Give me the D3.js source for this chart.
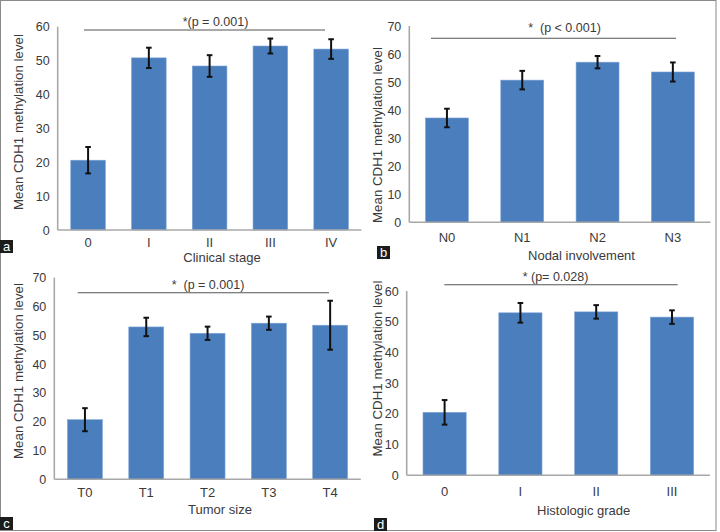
<!DOCTYPE html>
<html>
<head>
<meta charset="utf-8">
<script src="https://cdn.jsdelivr.net/npm/d3@7"></script>
<style>
  html, body { margin: 0; padding: 0; background: #fff; }
  svg { display: block; font-family: "Liberation Sans", Arial, sans-serif; }
  text { white-space: pre; }
</style>
</head>
<body>
<svg id="chart" width="720" height="532"></svg>
<script>
// ---- Data ----
const categoriesA = ["0", "I", "II", "III", "IV"];
const valuesA = [20.6, 50.8, 48.4, 54.3, 53.4];
const errorsA = [3.9, 3.0, 3.2, 2.2, 2.9];

const categoriesB = ["N0", "N1", "N2", "N3"];
const valuesB = [37.2, 50.7, 57.1, 53.6];
const errorsB = [3.3, 3.3, 2.2, 3.4];

const categoriesC = ["T0", "T1", "T2", "T3", "T4"];
const valuesC = [20.7, 52.9, 50.7, 54.2, 53.5];
const errorsC = [4.0, 3.2, 2.3, 2.3, 8.5];

const categoriesD = ["0", "I", "II", "III"];
const valuesD = [20.5, 52.9, 53.2, 51.5];
const errorsD = [4.0, 3.2, 2.2, 2.2];

const ticksA = [0, 10, 20, 30, 40, 50, 60];
const ticksB = [0, 10, 20, 30, 40, 50, 60, 70];
const ticksC = [0, 10, 20, 30, 40, 50, 60, 70];
const ticksD = [0, 10, 20, 30, 40, 50, 60];

const yTitle = "Mean CDH1 methylation level";

// ---- Drawing ----
const svg = d3.select("#chart");
const textColor = "#3a3a3a";
const barColor = "#4a7ebd";
const axisColor = "#a8a8a8";

svg.append("rect").attr("x", 0.5).attr("y", 0.5).attr("width", 715.5).attr("height", 530)
  .attr("fill", "#fff").attr("stroke", "#8a8a8a").attr("stroke-width", 1);

function panel(p) {
  const g = svg.append("g");
  const x = d3.scaleBand().domain(p.categories).range([p.x0, p.x1])
    .paddingInner(0.43).paddingOuter(0.215);
  const y = d3.scaleLinear().domain([0, d3.max(p.ticks)]).range([p.yBase, p.yTop]);

  const yAxis = d3.axisLeft(y).tickValues(p.ticks).tickSize(0).tickPadding(8);
  const ya = g.append("g").attr("transform", `translate(${p.x0},0)`).call(yAxis);
  ya.select(".domain").remove();
  ya.selectAll("text").attr("fill", textColor).style("font-size", "12.5px")
    .style("font-family", "Liberation Sans, Arial, sans-serif");

  const xAxis = d3.axisBottom(x).tickSize(0).tickPadding(p.xLabPad);
  const xa = g.append("g").attr("transform", `translate(0,${p.yBase})`).call(xAxis);
  xa.select(".domain").remove();
  xa.selectAll("text").attr("fill", textColor).style("font-size", "13px")
    .style("font-family", "Liberation Sans, Arial, sans-serif");

  g.selectAll("rect.bar").data(p.values).join("rect")
    .attr("class", "bar")
    .attr("x", (d, i) => x(p.categories[i]))
    .attr("width", x.bandwidth())
    .attr("y", d => y(d))
    .attr("height", d => y(0) - y(d))
    .attr("fill", barColor)
    .attr("stroke", "#7fa5d6").attr("stroke-width", 0.6);

  g.append("line").attr("x1", p.x0).attr("x2", p.x0).attr("y1", p.yTop).attr("y2", p.yBase)
    .attr("stroke", axisColor).attr("stroke-width", 1.6);
  g.append("line").attr("x1", p.x0).attr("x2", p.x1).attr("y1", p.yBase).attr("y2", p.yBase)
    .attr("stroke", axisColor).attr("stroke-width", 1.6);

  const eb = g.selectAll("g.err").data(p.values).join("g").attr("class", "err");
  eb.each(function (d, i) {
    const cx = x(p.categories[i]) + x.bandwidth() / 2;
    const e = p.errors[i];
    const s = d3.select(this);
    s.append("line").attr("x1", cx).attr("x2", cx).attr("y1", y(d + e)).attr("y2", y(d - e))
      .attr("stroke", "#111").attr("stroke-width", 2);
    [d + e, d - e].forEach(v => {
      s.append("line").attr("x1", cx - 2.8).attr("x2", cx + 2.8).attr("y1", y(v)).attr("y2", y(v))
        .attr("stroke", "#111").attr("stroke-width", 2);
    });
  });

  g.append("text")
    .attr("transform", `translate(${p.yTitleX},${p.yTitleY}) rotate(-90)`)
    .attr("text-anchor", "middle").attr("dy", "0.35em")
    .attr("fill", textColor).style("font-size", "13.3px").text(yTitle);

  g.append("text").attr("x", p.xTitleX).attr("y", p.xTitleY)
    .attr("text-anchor", "middle").attr("fill", textColor).style("font-size", "13px")
    .text(p.xTitle);

  g.append("line").attr("x1", p.brX1).attr("x2", p.brX2).attr("y1", p.brY).attr("y2", p.brY)
    .attr("stroke", "#555").attr("stroke-width", 1.1);
  g.append("text").attr("x", p.sigX).attr("y", p.sigY).attr("text-anchor", "middle")
    .attr("fill", textColor).style("font-size", "12.5px").text(p.sig);

  g.append("rect").attr("x", p.lx).attr("y", p.ly).attr("width", 13).attr("height", 13)
    .attr("fill", "#1c1c1c");
  g.append("text").attr("x", p.lx + 6.5).attr("y", p.ly + 10.5).attr("text-anchor", "middle")
    .attr("fill", "#fff").style("font-size", "13px").text(p.letter);
}

panel({
  categories: categoriesA, values: valuesA, errors: errorsA, ticks: ticksA,
  x0: 57.7, x1: 361.5, yTop: 26.7, yBase: 230, xLabPad: 8,
  yTitleX: 18, yTitleY: 122, xTitle: "Clinical stage", xTitleX: 222, xTitleY: 261.5,
  brX1: 84, brX2: 325, brY: 30, sig: "*(p = 0.001)", sigX: 215.5, sigY: 25.5,
  letter: "a", lx: 0, ly: 240
});

panel({
  categories: categoriesB, values: valuesB, errors: errorsB, ticks: ticksB,
  x0: 409.3, x1: 710.5, yTop: 26, yBase: 222.3, xLabPad: 10,
  yTitleX: 377, yTitleY: 135, xTitle: "Nodal involvement", xTitleX: 581.5, xTitleY: 259.5,
  brX1: 431, brX2: 676, brY: 38.3, sig: "*  (p < 0.001)", sigX: 564.5, sigY: 32,
  letter: "b", lx: 377, ly: 246
});

panel({
  categories: categoriesC, values: valuesC, errors: errorsC, ticks: ticksC,
  x0: 54.3, x1: 360.8, yTop: 277.7, yBase: 479.3, xLabPad: 8,
  yTitleX: 18, yTitleY: 371, xTitle: "Tumor size", xTitleX: 220, xTitleY: 514,
  brX1: 77.7, brX2: 329, brY: 292.7, sig: "*  (p = 0.001)", sigX: 208, sigY: 289,
  letter: "c", lx: 0, ly: 517
});

panel({
  categories: categoriesD, values: valuesD, errors: errorsD, ticks: ticksD,
  x0: 406.7, x1: 709.9, yTop: 291, yBase: 475.3, xLabPad: 11,
  yTitleX: 377.5, yTitleY: 368.5, xTitle: "Histologic grade", xTitleX: 583.7, xTitleY: 514.8,
  brX1: 444.3, brX2: 677.7, brY: 284.7, sig: "* (p= 0.028)", sigX: 555.5, sigY: 281,
  letter: "d", lx: 374, ly: 518
});
</script>
</body>
</html>
